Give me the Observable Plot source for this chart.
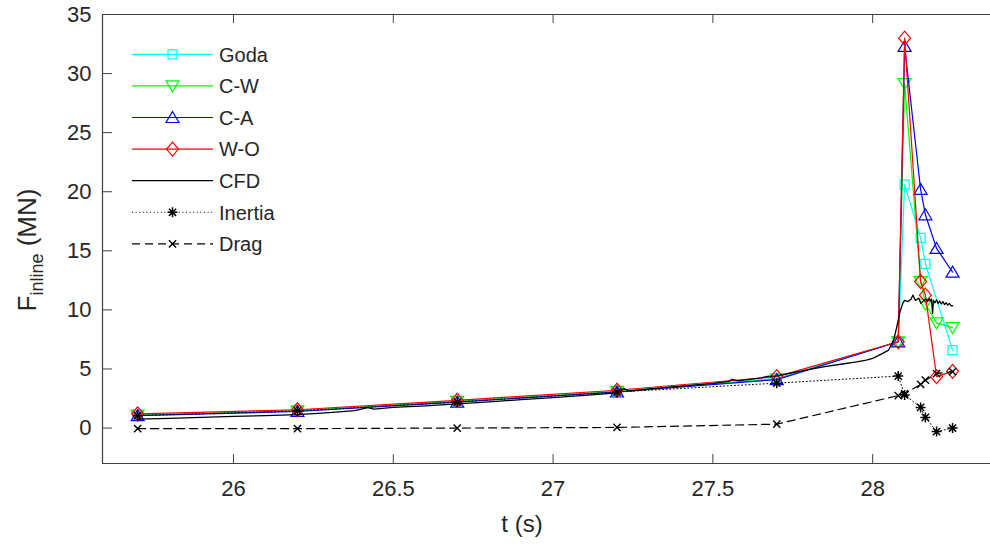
<!DOCTYPE html>
<html><head><meta charset="utf-8">
<script src="https://cdn.jsdelivr.net/npm/d3@7"></script>
<script src="https://cdn.jsdelivr.net/npm/@observablehq/plot@0.6"></script>
<style>
html,body{margin:0;padding:0;background:#fff;}
#chart{width:990px;height:550px;overflow:hidden;}
</style></head><body><div id="chart"></div>
<script>
// ---- data ----
const tModel = [25.7, 26.2, 26.7, 27.2, 27.7, 28.08, 28.1, 28.15, 28.165, 28.2, 28.25];
const goda   = [1.1, 1.45, 2.25, 3.1, 4.2, 7.3, 20.6, 16.1, 13.9, null, 6.6];
const cw     = [1.1, 1.45, 2.25, 3.1, 4.15, 7.3, 29.15, 12.4, 10.5, 8.9, 8.5];
const ca     = [1.05, 1.4, 2.2, 3.05, 4.1, 7.3, 32.3, 20.2, 18.05, 15.2, 13.2];
const wo     = [1.2, 1.55, 2.35, 3.2, 4.35, 7.3, 33.0, 12.4, 11.25, 4.35, 4.8];
const inertia= [1.05, 1.45, 2.2, 3.05, 3.8, 4.4, 2.8, 1.75, 0.9, -0.3, 0.0];
const drag   = [-0.05, -0.05, 0.0, 0.05, 0.33, 2.75, 2.9, 3.7, 4.05, 4.6, 4.78];
const cfdT = [25.70,25.80,25.90,26.00,26.10,26.20,26.30,26.38,26.42,26.44,26.50,26.60,26.70,26.80,26.90,27.00,27.10,27.20,27.22,27.24,27.30,27.40,27.50,27.55,27.56,27.58,27.65,27.67,27.70,27.75,27.80,27.85,27.90,27.95,27.98,28.00,28.03,28.05,28.065,28.075,28.085,28.095,28.10,28.11,28.12,28.126,28.134,28.144,28.151,28.16,28.167,28.172,28.176,28.18,28.184,28.1875,28.19,28.195,28.20,28.205,28.21,28.215,28.22,28.225,28.23,28.235,28.24,28.245,28.25];
const cfdV = [0.75,0.82,0.90,0.98,1.05,1.13,1.30,1.48,1.72,1.60,1.75,1.88,2.05,2.22,2.40,2.58,2.76,2.98,3.35,3.12,3.32,3.55,3.78,3.95,4.12,4.0,4.25,4.38,4.42,4.7,4.95,5.2,5.4,5.6,5.75,5.9,6.3,6.6,7.4,8.5,9.8,10.6,10.8,10.7,10.9,11.25,10.8,11.0,10.55,10.8,10.9,10.7,10.95,10.75,10.9,9.7,10.8,10.6,10.85,10.55,10.75,10.5,10.7,10.45,10.6,10.4,10.55,10.35,10.35];
const xTicks = [26, 26.5, 27, 27.5, 28];
const yTicks = [0, 5, 10, 15, 20, 25, 30, 35];
const names = ["Goda", "C-W", "C-A", "W-O", "CFD", "Inertia", "Drag"];

// ---- marker shapes ----
const symSquare = {draw(c){const h=4.5;c.moveTo(-h,-h);c.lineTo(h,-h);c.lineTo(h,h);c.lineTo(-h,h);c.closePath();}};
const symTriDown = {draw(c){c.moveTo(-6.5,-5);c.lineTo(6.5,-5);c.lineTo(0,6);c.closePath();}};
const symTriUp = {draw(c){c.moveTo(0,-6);c.lineTo(6.5,5);c.lineTo(-6.5,5);c.closePath();}};
const symDiamond = {draw(c){c.moveTo(0,-7);c.lineTo(6,0);c.lineTo(0,7);c.lineTo(-6,0);c.closePath();}};
const symStar = {draw(c){const a=5,b=3.6;c.moveTo(-a,0);c.lineTo(a,0);c.moveTo(0,-a);c.lineTo(0,a);c.moveTo(-b,-b);c.lineTo(b,b);c.moveTo(-b,b);c.lineTo(b,-b);}};
const symTimes = {draw(c){const b=3.6;c.moveTo(-b,-b);c.lineTo(b,b);c.moveTo(-b,b);c.lineTo(b,-b);}};

const styles = [
  {name: names[0], values: goda, color: "#00FFFF", sym: symSquare, dash: null, sw: 1.2, msw: 1.2},
  {name: names[1], values: cw, color: "#00FF00", sym: symTriDown, dash: null, sw: 1.2, msw: 1.2},
  {name: names[2], values: ca, color: "#0000FF", sym: symTriUp, dash: null, sw: 1.2, msw: 1.2},
  {name: names[3], values: wo, color: "#FF0000", sym: symDiamond, dash: null, sw: 1.2, msw: 1.2},
  {name: names[4], values: null, color: "#000000", sym: null, dash: null, sw: 1.3, msw: 1},
  {name: names[5], values: inertia, color: "#000000", sym: symStar, dash: "1,2.6", sw: 1, msw: 1.5},
  {name: names[6], values: drag, color: "#000000", sym: symTimes, dash: "8,5", sw: 1.2, msw: 1.4}
];

const W = 990, H = 550, mL = 102, mT = 14, mB = 87, mR = 0;
const frameH = H - mT - mB, frameW = W - mL - mR;
const axisColor = "#404040", textColor = "#262626";

const marks = [];
for (const s of styles) {
  if (s.name === "CFD") {
    const rows = cfdT.map((t, i) => ({t, v: cfdV[i]}));
    marks.push(Plot.line(rows, {x: "t", y: "v", stroke: s.color, strokeWidth: s.sw}));
    continue;
  }
  const rows = tModel.map((t, i) => ({t, v: s.values[i]})).filter(d => d.v != null);
  marks.push(Plot.line(rows, {x: "t", y: "v", stroke: s.color, strokeWidth: s.sw, strokeDasharray: s.dash}));
  marks.push(Plot.dot(rows, {x: "t", y: "v", symbol: s.sym, r: 5, stroke: s.color, fill: "none", strokeWidth: s.msw}));
}

const chart = Plot.plot({
  width: W, height: H,
  marginLeft: mL, marginTop: mT, marginBottom: mB, marginRight: mR,
  style: {fontFamily: "'Liberation Sans', Arial, sans-serif", fontSize: "22px", background: "#fff", color: textColor},
  x: {domain: [25.59, 28.4], range: [mL, 1000]},
  y: {domain: [-3, 35], range: [H - mB, mT]},
  marks: [
    ...marks,
    Plot.ruleY([35], {stroke: axisColor, strokeWidth: 1.2}),
    Plot.ruleY([-3], {stroke: axisColor, strokeWidth: 1.2}),
    Plot.ruleX([25.59], {stroke: axisColor, strokeWidth: 1.2}),
    Plot.tickX(xTicks, {x: d => d, insetTop: frameH - 9, stroke: axisColor}),
    Plot.tickX(xTicks, {x: d => d, insetBottom: frameH - 9, stroke: axisColor}),
    Plot.tickY(yTicks, {y: d => d, insetRight: frameW - 10, stroke: axisColor}),
    Plot.axisX(xTicks, {tickSize: 0, tickPadding: 17, label: null, fontSize: 22, fill: textColor, tickFormat: d => String(d)}),
    Plot.axisY(yTicks, {tickSize: 0, tickPadding: 11, label: null, fontSize: 22, fill: textColor, tickFormat: d => String(d)})
  ]
});
document.getElementById("chart").appendChild(chart);

// ---- axis titles and legend ----
const svg = d3.select(chart);
const font = "'Liberation Sans', Arial, sans-serif";
svg.append("text").attr("x", 522).attr("y", 532).attr("text-anchor", "middle")
  .style("font-family", font).style("font-size", "24px").attr("fill", textColor).text("t (s)");
const yl = svg.append("text").attr("transform", "translate(36,250) rotate(-90)").attr("text-anchor", "middle")
  .style("font-family", font).style("font-size", "26px").attr("fill", textColor);
yl.append("tspan").text("F");
yl.append("tspan").attr("dy", 7).style("font-size", "18px").text("inline");
yl.append("tspan").attr("dy", -7).text(" (MN)");

const lg = svg.append("g").attr("text-anchor", "start");
styles.forEach((s, i) => {
  const y = 54.3 + i * 31.6;
  lg.append("line").attr("x1", 132).attr("x2", 213).attr("y1", y).attr("y2", y)
    .attr("stroke", s.color).attr("stroke-width", s.sw).attr("stroke-dasharray", s.dash);
  if (s.sym) {
    lg.append("path").attr("d", d3.symbol().type(s.sym)()).attr("transform", `translate(172.5,${y})`)
      .attr("fill", "none").attr("stroke", s.color).attr("stroke-width", s.msw);
  }
  lg.append("text").attr("x", 219).attr("y", y).attr("dy", "0.36em").attr("text-anchor", "start")
    .style("font-family", font).style("font-size", "20px").attr("fill", textColor).text(s.name);
});
</script></body></html>
